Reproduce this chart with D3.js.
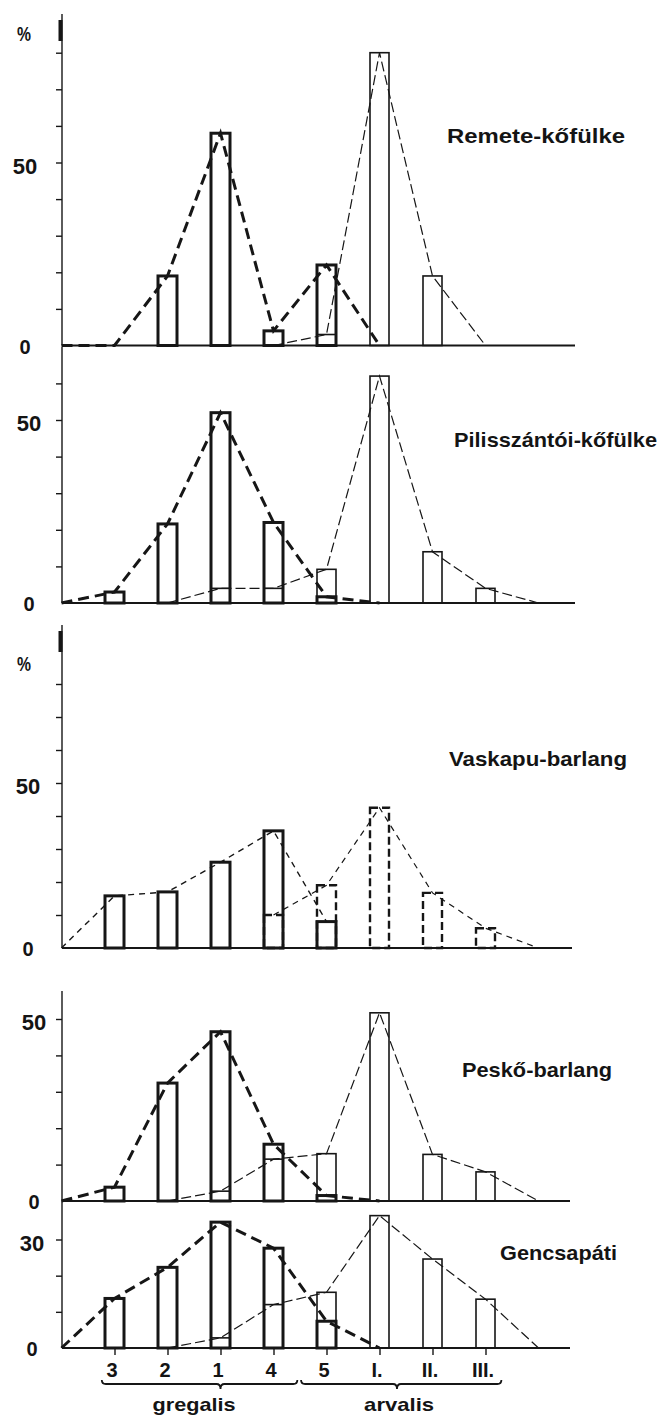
<!doctype html>
<html lang="hu">
<head>
<meta charset="utf-8">
<title>gregalis / arvalis</title>
<script src="https://cdn.jsdelivr.net/npm/d3@7"></script>
<style>
  body { margin: 0; background: #fff; }
  svg { display: block; }
  text { font-family: "Liberation Sans", Arial, sans-serif; fill: #141414; font-weight: bold; }
</style>
</head>
<body>
<script>

// Data (percent per morphotype)
var categories = ["3", "2", "1", "4", "5", "I.", "II.", "III."];
var sites = ["Remete-kőfülke", "Pilisszántói-kőfülke", "Vaskapu-barlang", "Peskő-barlang", "Gencsapáti"];

var remeteGregalis  = [0, 19, 58, 4, 22, 0, 0, 0];
var remeteArvalis   = [0, 0, 0, 0, 3, 80, 19, 0];
var pilisGregalis   = [3, 21.6, 52, 22, 1.7, 0, 0, 0];
var pilisArvalis    = [0, 0, 4, 4, 9.2, 62, 14, 4];
var vaskapuGregalis = [15.8, 17, 26, 35.5, 8, 0, 0, 0];
var vaskapuArvalis  = [0, 0, 0, 10, 19, 42.5, 16.7, 6];
var peskoGregalis   = [3.8, 32.4, 46.5, 15.6, 1.5, 0, 0, 0];
var peskoArvalis    = [0, 0, 2.7, 11.5, 13, 51.7, 12.8, 8];
var gencsGregalis   = [13.7, 22.3, 34.8, 27.6, 7.4, 0, 0, 0];
var gencsArvalis    = [0, 0, 2.8, 12, 15.4, 36.6, 24.6, 13.5];

// first / last category index of each curve (-1 = on the y axis, 8 = tail)
var gregalisSpans = [[-1, 5], [-1, 5], [-1, 4], [-1, 5], [-1, 5]];
var arvalisSpans  = [[3, 7], [1, 8], [3, 8], [1, 8], [1, 8]];

// y axis: labelled values and top tick per panel
var yLabelValues = [[0, 50], [0, 50], [0, 50], [0, 50], [0, 30]];
var yTickMax = [80, 60, 80, 50, 30];

var groupNames = ["gregalis", "arvalis"];

var gregalis = [remeteGregalis, pilisGregalis, vaskapuGregalis, peskoGregalis, gencsGregalis];
var arvalis = [remeteArvalis, pilisArvalis, vaskapuArvalis, peskoArvalis, gencsArvalis];

// Layout
var W = 661, H = 1422;
var panels = [
  {y0: 345.5, yRef: 162.5, top: 14,   xEnd: 575, labelX: 25, pctY: 41,  titleX: 447, titleY: 143,  titleW: 178},
  {y0: 603,   yRef: 420,   top: 347,  xEnd: 575, labelX: 29, pctY: null, titleX: 454, titleY: 447,  titleW: 203},
  {y0: 948,   yRef: 783,   top: 625,  xEnd: 572, labelX: 28, pctY: 671, titleX: 449, titleY: 766,  titleW: 178, dashedArv: true, thinGreg: true},
  {y0: 1201,  yRef: 1019,  top: 991,  xEnd: 570, labelX: 34, pctY: null, titleX: 462, titleY: 1077, titleW: 150},
  {y0: 1348,  yRef: 1239.5, top: 1201, xEnd: 570, labelX: 32, pctY: null, titleX: 500, titleY: 1260, titleW: 117}
];
var axisX = 62;
var barW = 19;
var ink = "#161616";

var x = d3.scaleLinear().domain([-1, 8]).range([61.5, 538.5]);

var svg = d3.select("body").append("svg")
  .attr("width", W)
  .attr("height", H);

svg.append("rect").attr("width", W).attr("height", H).attr("fill", "#fff");

panels.forEach(function(p, k) {
  var ref = yLabelValues[k][1];
  var y = d3.scaleLinear().domain([0, ref]).range([p.y0, p.yRef]);
  var g = svg.append("g").attr("class", "panel");

  // y axis line + ticks
  g.append("line")
    .attr("x1", axisX).attr("x2", axisX)
    .attr("y1", p.top).attr("y2", p.y0)
    .attr("stroke", ink).attr("stroke-width", 1.4);

  var yAxis = d3.axisLeft(y)
    .tickValues(d3.range(10, yTickMax[k] + 1, 10))
    .tickSize(6)
    .tickFormat("");
  var ya = g.append("g")
    .attr("transform", "translate(" + axisX + ",0)")
    .call(yAxis);
  ya.select(".domain").remove();
  ya.selectAll(".tick line").attr("stroke", ink).attr("stroke-width", 1.4);

  // y labels
  g.selectAll(".ylab")
    .data(yLabelValues[k])
    .enter().append("text")
    .attr("class", "ylab")
    .attr("x", p.labelX)
    .attr("y", function(d) { return y(d) + (d === 0 ? 8 : 11); })
    .attr("text-anchor", "middle")
    .attr("font-size", function(d) { return d === 0 ? 20 : 22; })
    .text(function(d) { return d; });

  if (p.pctY) {
    g.append("text")
      .attr("x", 17).attr("y", p.pctY)
      .attr("font-size", 20)
      .attr("textLength", 14)
      .attr("lengthAdjust", "spacingAndGlyphs")
      .text("%");
    g.append("line")
      .attr("x1", axisX - 1.5).attr("x2", axisX - 1.5)
      .attr("y1", p.top + 6).attr("y2", p.top + 27)
      .attr("stroke", ink).attr("stroke-width", 4);
  }

  // baseline
  g.append("line")
    .attr("x1", axisX).attr("x2", p.xEnd)
    .attr("y1", p.y0).attr("y2", p.y0)
    .attr("stroke", ink).attr("stroke-width", 2);

  // bars: arvalis thin, gregalis thick, both open
  var arvBars = arvalis[k].map(function(v, i) { return {i: i, v: v}; }).filter(function(d) { return d.v > 0; });
  var gregBars = gregalis[k].map(function(v, i) { return {i: i, v: v}; }).filter(function(d) { return d.v > 0; });

  g.selectAll(".bar-arv")
    .data(arvBars)
    .enter().append("rect")
    .attr("class", "bar-arv")
    .attr("x", function(d) { return x(d.i) - barW / 2; })
    .attr("y", function(d) { return y(d.v); })
    .attr("width", barW)
    .attr("height", function(d) { return p.y0 - y(d.v); })
    .attr("fill", "none")
    .attr("stroke", ink)
    .attr("stroke-width", p.dashedArv ? 2.4 : 1.6)
    .attr("stroke-dasharray", p.dashedArv ? "8,4" : null);

  g.selectAll(".bar-greg")
    .data(gregBars)
    .enter().append("rect")
    .attr("class", "bar-greg")
    .attr("x", function(d) { return x(d.i) - barW / 2; })
    .attr("y", function(d) { return y(d.v); })
    .attr("width", barW)
    .attr("height", function(d) { return p.y0 - y(d.v); })
    .attr("fill", "none")
    .attr("stroke", ink)
    .attr("stroke-width", 3);

  // curves
  var line = d3.line()
    .x(function(d) { return x(d.i); })
    .y(function(d) { return y(d.v); });

  function pts(values, span) {
    return d3.range(span[0], span[1] + 1).map(function(i) {
      return {i: i, v: (i < 0 || i > 7) ? 0 : values[i]};
    });
  }

  g.append("path")
    .datum(pts(arvalis[k], arvalisSpans[k]))
    .attr("d", line)
    .attr("fill", "none")
    .attr("stroke", ink)
    .attr("stroke-width", 1.2)
    .attr("stroke-dasharray", p.dashedArv ? "6,5" : "10,4");

  g.append("path")
    .datum(pts(gregalis[k], gregalisSpans[k]))
    .attr("d", line)
    .attr("fill", "none")
    .attr("stroke", ink)
    .attr("stroke-width", p.thinGreg ? 1.4 : 3)
    .attr("stroke-dasharray", p.thinGreg ? "6,5" : "11,6");

  // site name
  g.append("text")
    .attr("x", p.titleX)
    .attr("y", p.titleY)
    .attr("font-size", 21)
    .attr("textLength", p.titleW)
    .attr("lengthAdjust", "spacingAndGlyphs")
    .text(sites[k]);

  // category axis on the last panel
  if (k === panels.length - 1) {
    var xAxis = d3.axisBottom(x)
      .tickValues(d3.range(categories.length))
      .tickSize(7)
      .tickFormat(function(i) { return categories[i]; });
    var xa = g.append("g")
      .attr("transform", "translate(0," + p.y0 + ")")
      .call(xAxis);
    xa.select(".domain").remove();
    xa.selectAll(".tick line").attr("stroke", ink).attr("stroke-width", 1.4);
    xa.selectAll(".tick text")
      .attr("y", 29).attr("dy", 0).attr("dx", -3)
      .attr("font-size", 20)
      .attr("font-family", "'Liberation Sans', Arial, sans-serif")
      .attr("font-weight", "bold")
      .attr("fill", ink);
  }
});

// group braces under the category axis
var braces = [
  {from: -0.24, to: 3.45, tip: 2, mid: 1.5, w: 83},
  {from: 3.52, to: 7.3, tip: 5.33, mid: 5.37, w: 70}
];
var by = 1384;

braces.forEach(function(b, j) {
  var x1 = x(b.from), x2 = x(b.to), xm = x(b.tip);
  var d = "M" + x1 + "," + (by - 4) +
    "Q" + x1 + "," + by + " " + (x1 + 4) + "," + by +
    "L" + (xm - 4) + "," + by +
    "Q" + xm + "," + by + " " + xm + "," + (by + 5) +
    "Q" + xm + "," + by + " " + (xm + 4) + "," + by +
    "L" + (x2 - 4) + "," + by +
    "Q" + x2 + "," + by + " " + x2 + "," + (by - 4);
  svg.append("path")
    .attr("d", d)
    .attr("fill", "none")
    .attr("stroke", ink)
    .attr("stroke-width", 1.8);

  svg.append("text")
    .attr("x", x(b.mid) - b.w / 2)
    .attr("y", 1411)
    .attr("font-size", 19)
    .attr("textLength", b.w)
    .attr("lengthAdjust", "spacingAndGlyphs")
    .text(groupNames[j]);
});

</script>
</body>
</html>
